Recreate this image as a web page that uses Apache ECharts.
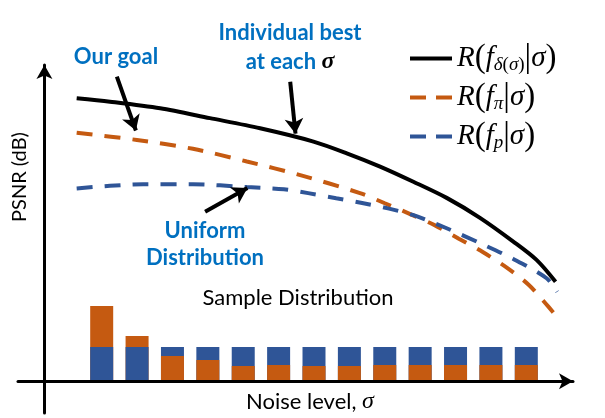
<!DOCTYPE html>
<html><head><meta charset="utf-8">
<script src="https://cdn.jsdelivr.net/npm/echarts@6/dist/echarts.min.js"></script>
<style>html,body{margin:0;padding:0;background:#fff}#c{width:605px;height:418px}</style>
</head><body><div id="c"></div>
<script>
// PSNR curves vs noise level (arbitrary units)
const bestCurve = [[6.1,89.5],[12.4,88.4],[21.9,86.3],[31.3,83.2],[40.8,80.0],[50.9,75.8],[57.2,72.1],[63.5,67.9],[69.8,63.1],[76.1,58.0],[82.4,51.7],[88.7,44.2],[93.1,38.4],[96.7,31.5]];
const goalCurve = [[6.1,78.6],[17.5,76.3],[28.1,73.5],[38.3,69.5],[48.4,65.2],[59.7,59.5],[64.4,56.3],[69.3,52.8],[73.9,49.3],[78.4,45.1],[83.0,40.8],[87.6,35.8],[91.7,30.4],[95.3,23.7],[96.3,21.7]];
const uniformCurve = [[6.1,61.0],[12.4,61.8],[18.7,62.3],[28.1,62.3],[38.3,61.4],[45.3,60.7],[49.9,59.5],[55.2,57.9],[60.1,56.4],[65.2,54.6],[69.7,52.6],[76.1,48.4],[82.4,43.7],[88.7,38.7],[95.0,32.6],[97.0,28.3]];
// sample distribution bars
const noiseBins = ['1','2','3','4','5','6','7','8','9','10','11','12','13'];
const ourSamples = [7.4,4.4,2.4,2.0,1.4,1.5,1.4,1.4,1.5,1.5,1.5,1.5,1.5];
const uniformSamples = [3.3,3.3,3.3,3.3,3.3,3.3,3.3,3.3,3.3,3.3,3.3,3.3,3.3];
// annotation arrows: [tail, tip] in curve units
const goalArrow = [[13.7,96.3],[17.3,79.3]];
const bestArrow = [[46.5,94.7],[47.5,78.3]];
const uniformArrow = [[30.4,53.6],[38.4,61.1]];

const ORANGE = '#C55A11', BLUE = '#2F5597', TXTBLUE = '#0070C0';
const backBars = noiseBins.map((_, i) => ({value: Math.max(ourSamples[i], uniformSamples[i]), itemStyle: {color: ourSamples[i] > uniformSamples[i] ? ORANGE : BLUE}}));
const frontBars = noiseBins.map((_, i) => ({value: Math.min(ourSamples[i], uniformSamples[i]), itemStyle: {color: ourSamples[i] > uniformSamples[i] ? BLUE : ORANGE}}));

function arrowLine(a) {
  return {silent: true, symbol: ['none', 'arrow'], symbolSize: [14, 15], label: {show: false},
    lineStyle: {color: '#000', width: 4, type: 'solid'},
    data: [[{coord: a[0]}, {coord: a[1]}]]};
}

const rich = {
  i: {fontFamily: 'Liberation Serif', fontStyle: 'italic', fontSize: 29, lineHeight: 32, color: '#000'},
  p: {fontFamily: 'Liberation Serif', fontSize: 33, lineHeight: 32, color: '#000'},
  s: {fontFamily: 'Liberation Serif', fontStyle: 'italic', fontSize: 19, lineHeight: 14, verticalAlign: 'bottom', color: '#000'},
  sp: {fontFamily: 'Liberation Serif', fontSize: 19, lineHeight: 14, verticalAlign: 'bottom', color: '#000'}
};
const legendText = {
  best: '{i|R}{p|(}{i|f}{s|δ}{sp|(}{s|σ}{sp|)}{p||}{i|σ}{p|)}',
  goal: '{i|R}{p|(}{i|f}{s|π}{p||}{i|σ}{p|)}',
  uniform: '{i|R}{p|(}{i|f}{s|p}{p||}{i|σ}{p|)}'
};
const SOLID_ICON = 'path://M0,0H42V4H0Z';
const DASH_ICON = 'path://M0,0H16V4H0Z M26,0H42V4H26Z';

const chart = echarts.init(document.getElementById('c'));
const axisBase = {type: 'value', axisTick: {show: false}, axisLabel: {show: false}, splitLine: {show: false},
  axisLine: {show: true, onZero: true, symbol: ['none', 'arrow'], symbolSize: [12, 14], lineStyle: {color: '#000', width: 3}}};
chart.setOption({
  animation: false,
  backgroundColor: '#fff',
  grid: [
    {left: 18, width: 555, top: 65, height: 348},
    {left: 84, width: 460, bottom: 38, height: 100}
  ],
  xAxis: [
    Object.assign({}, axisBase, {gridIndex: 0, min: -5, max: 100}),
    {type: 'category', gridIndex: 1, data: noiseBins, show: false}
  ],
  yAxis: [
    Object.assign({}, axisBase, {gridIndex: 0, min: -10, max: 100}),
    {type: 'value', gridIndex: 1, min: 0, max: 10, show: false}
  ],
  legend: {
    orient: 'vertical', left: 410, top: 42, padding: 0, itemWidth: 42, itemHeight: 4, itemGap: 6,
    data: [{name: 'best', icon: SOLID_ICON}, {name: 'goal', icon: DASH_ICON}, {name: 'uniform', icon: DASH_ICON}],
    formatter: n => legendText[n],
    textStyle: {rich: rich}
  },
  series: [
    {name: 'best', type: 'line', data: bestCurve, smooth: 0.3, showSymbol: false, symbol: 'none',
     lineStyle: {color: '#000', width: 4}, itemStyle: {color: '#000'}, z: 3,
     markLine: arrowLine(bestArrow)},
    {name: 'goal', type: 'line', data: goalCurve, smooth: 0.3, showSymbol: false, symbol: 'none',
     lineStyle: {color: ORANGE, width: 4, type: [16, 12]}, itemStyle: {color: ORANGE}, z: 2,
     markLine: arrowLine(goalArrow)},
    {name: 'uniform', type: 'line', data: uniformCurve, smooth: 0.3, showSymbol: false, symbol: 'none',
     lineStyle: {color: BLUE, width: 4, type: [16, 12]}, itemStyle: {color: BLUE}, z: 2,
     markLine: arrowLine(uniformArrow)},
    {type: 'bar', xAxisIndex: 1, yAxisIndex: 1, data: backBars, barWidth: 23, barGap: '-100%', z: 1},
    {type: 'bar', xAxisIndex: 1, yAxisIndex: 1, data: frontBars, barWidth: 23, barGap: '-100%', z: 1}
  ],
  graphic: [
    {type: 'text', x: 116, y: 57, style: {text: 'Our goal', font: 'bold 22px Lato', fill: TXTBLUE, align: 'center', verticalAlign: 'middle'}},
    {type: 'text', x: 290, y: 33, style: {text: 'Individual best', font: 'bold 22px Lato', fill: TXTBLUE, align: 'center', verticalAlign: 'middle'}},
    {type: 'text', x: 290, y: 62, style: {text: '{a|at each }{b|σ}', align: 'center', verticalAlign: 'middle',
      rich: {a: {font: 'bold 22px Lato', fill: TXTBLUE, color: TXTBLUE}, b: {font: 'bold italic 24px "Liberation Serif"', color: TXTBLUE}}}},
    {type: 'text', x: 205, y: 231, style: {text: 'Uniform', font: 'bold 22px Lato', fill: TXTBLUE, align: 'center', verticalAlign: 'middle'}},
    {type: 'text', x: 205, y: 258, style: {text: 'Distribution', font: 'bold 22px Lato', fill: TXTBLUE, align: 'center', verticalAlign: 'middle'}},
    {type: 'text', x: 298, y: 298, style: {text: 'Sample Distribution', font: '22px Lato', fill: '#000', align: 'center', verticalAlign: 'middle'}},
    {type: 'text', x: 310, y: 402, style: {text: '{a|Noise level, }{b|σ}', align: 'center', verticalAlign: 'middle',
      rich: {a: {font: '22px Lato', color: '#000'}, b: {font: 'italic 24px "Liberation Serif"', color: '#000'}}}},
    {type: 'text', x: 20, y: 177, rotation: Math.PI / 2, style: {text: 'PSNR (dB)', font: '20px Lato', fill: '#000', align: 'center', verticalAlign: 'middle'}}
  ]
});
</script></body></html>
